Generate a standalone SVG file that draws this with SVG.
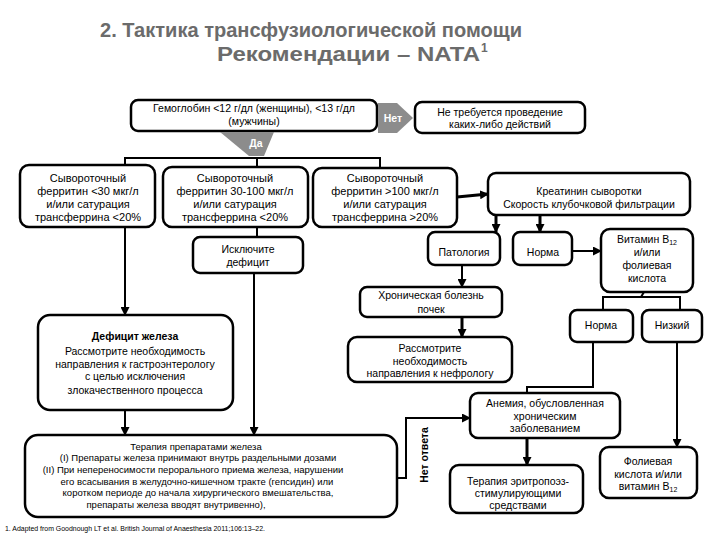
<svg xmlns="http://www.w3.org/2000/svg" width="720" height="540" viewBox="0 0 720 540">
<defs>
<style>
.bx{fill:#fff;stroke:#000;stroke-width:2.5}
.t{font-family:"Liberation Sans",Arial,sans-serif;font-size:10.5px;fill:#000;text-anchor:middle}
.t11{font-size:11px}
.ts{font-size:9.5px}
.b{font-weight:bold}
.ln{stroke:#000;stroke-width:2;fill:none}
.lnb{stroke:#000;stroke-width:3;fill:none}
.ti{font-family:"Liberation Sans",Arial,sans-serif;font-weight:bold;font-size:20px;fill:#6b6b6b}
.gr{fill:#8c8c8c}
.wt{font-family:"Liberation Sans",Arial,sans-serif;font-weight:bold;font-size:10.5px;fill:#fff;text-anchor:middle}
</style>
<marker id="ah" markerUnits="userSpaceOnUse" markerWidth="9" markerHeight="9" refX="8" refY="4.5" orient="auto">
<path d="M0,0 L9,4.5 L0,9 z" fill="#000"/>
</marker>
</defs>
<rect width="720" height="540" fill="#fff"/>
<g id="title">
<text class="ti" x="100" y="37" textLength="422" lengthAdjust="spacingAndGlyphs">2. Тактика трансфузиологической помощи</text>
<text class="ti" x="217" y="61" textLength="263" lengthAdjust="spacingAndGlyphs">Рекомендации – NATA</text>
<text class="ti" x="481" y="52" style="font-size:12px">1</text>
</g>
<g id="connectors">
<polyline class="ln" points="125,165 125,158 380,158 380,168"/>
<line class="ln" x1="257" y1="158" x2="257" y2="167"/>
<line class="ln" x1="125" y1="227" x2="125" y2="315" marker-end="url(#ah)"/>
<line class="ln" x1="257" y1="227" x2="257" y2="237"/>
<line class="ln" x1="254" y1="273" x2="254" y2="435" marker-end="url(#ah)"/>
<line class="ln" x1="125" y1="410" x2="125" y2="435" marker-end="url(#ah)"/>
<line class="lnb" x1="457" y1="197" x2="488" y2="194" marker-end="url(#ah)"/>
<line class="lnb" x1="496" y1="215" x2="496" y2="232" marker-end="url(#ah)"/>
<line class="lnb" x1="540" y1="215" x2="540" y2="232" marker-end="url(#ah)"/>
<line class="ln" x1="572" y1="251" x2="601" y2="251" marker-end="url(#ah)"/>
<line class="ln" x1="462" y1="265" x2="462" y2="287" marker-end="url(#ah)"/>
<line class="lnb" x1="462" y1="317" x2="462" y2="337" marker-end="url(#ah)"/>
<polyline class="ln" points="644,292 641,297"/>
<polyline class="ln" points="603,310 603,297 680,297 680,310"/>
<polyline class="ln" points="593,342 593,387 527,387 527,393"/>
<line class="ln" x1="677" y1="342" x2="677" y2="447" marker-end="url(#ah)"/>
<polyline class="ln" points="397,478 406,478 406,418 470,418" marker-end="url(#ah)"/>
<line class="lnb" x1="527" y1="438" x2="527" y2="465" marker-end="url(#ah)"/>
</g>
<g id="hb">
<rect class="bx" x="131" y="100" width="246" height="31" rx="7"/>
<text class="t" x="254" y="112">Гемоглобин &lt;12 г/дл (женщины), &lt;13 г/дл</text>
<text class="t" x="254" y="125">(мужчины)</text>
</g>
<g id="net">
<polygon class="gr" points="378,103 397,103 413,118 397,133 378,133"/>
<text class="wt" x="393" y="122">Нет</text>
</g>
<g id="da">
<polygon class="gr" points="220,132 274,132 264,156 249,156"/>
<text class="wt" x="256" y="147">Да</text>
</g>
<g id="noaction">
<rect class="bx" x="415" y="102" width="170" height="31" rx="7"/>
<text class="t" x="500" y="116">Не требуется проведение</text>
<text class="t" x="500" y="128">каких-либо действий</text>
</g>
<g id="ferr1">
<rect class="bx" x="20" y="165" width="135" height="62" rx="9"/>
<text class="t t11" x="88" y="182">Сывороточный</text>
<text class="t t11" x="88" y="195">ферритин &lt;30 мкг/л</text>
<text class="t t11" x="88" y="208">и/или сатурация</text>
<text class="t t11" x="88" y="221">трансферрина &lt;20%</text>
</g>
<g id="ferr2">
<rect class="bx" x="163" y="167" width="145" height="60" rx="9"/>
<text class="t t11" x="235" y="182">Сывороточный</text>
<text class="t t11" x="235" y="195">ферритин 30-100 мкг/л</text>
<text class="t t11" x="235" y="208">и/или сатурация</text>
<text class="t t11" x="235" y="221">трансферрина &lt;20%</text>
</g>
<g id="ferr3">
<rect class="bx" x="313" y="168" width="144" height="59" rx="9"/>
<text class="t t11" x="385" y="182">Сывороточный</text>
<text class="t t11" x="385" y="195">ферритин &gt;100 мкг/л</text>
<text class="t t11" x="385" y="208">и/или сатурация</text>
<text class="t t11" x="385" y="221">трансферрина &gt;20%</text>
</g>
<g id="creat">
<rect class="bx" x="488" y="173" width="202" height="42" rx="8"/>
<text class="t" x="589" y="195">Креатинин сыворотки</text>
<text class="t" x="589" y="208">Скорость клубочковой фильтрации</text>
</g>
<g id="exclude">
<rect class="bx" x="193" y="237" width="110" height="36" rx="7"/>
<text class="t" x="248" y="253">Исключите</text>
<text class="t" x="248" y="266">дефицит</text>
</g>
<g id="path">
<rect class="bx" x="428" y="232" width="72" height="33" rx="7"/>
<text class="t" x="464" y="256">Патология</text>
</g>
<g id="norm1">
<rect class="bx" x="513" y="232" width="59" height="33" rx="7"/>
<text class="t" x="543" y="256">Норма</text>
</g>
<g id="vit">
<rect class="bx" x="601" y="229" width="92" height="63" rx="9"/>
<text class="t" x="647" y="243">Витамин B<tspan font-size="7" dy="2">12</tspan></text>
<text class="t" x="647" y="256">и/или</text>
<text class="t" x="647" y="269">фолиевая</text>
<text class="t" x="647" y="282">кислота</text>
</g>
<g id="ckd">
<rect class="bx" x="360" y="287" width="142" height="30" rx="7"/>
<text class="t" x="431" y="299">Хроническая болезнь</text>
<text class="t" x="431" y="313">почек</text>
</g>
<g id="norm2">
<rect class="bx" x="570" y="310" width="63" height="32" rx="7"/>
<text class="t" x="601" y="329">Норма</text>
</g>
<g id="low">
<rect class="bx" x="642" y="310" width="60" height="32" rx="7"/>
<text class="t" x="672" y="329">Низкий</text>
</g>
<g id="deficit">
<rect class="bx" x="38" y="315" width="195" height="95" rx="12"/>
<text class="t b" x="135" y="340">Дефицит железа</text>
<text class="t" x="135" y="355">Рассмотрите необходимость</text>
<text class="t" x="135" y="368">направления к гастроэнтерологу</text>
<text class="t" x="135" y="380">с целью исключения</text>
<text class="t" x="135" y="394">злокачественного процесса</text>
</g>
<g id="nephro">
<rect class="bx" x="348" y="337" width="164" height="45" rx="9"/>
<text class="t" x="430" y="352">Рассмотрите</text>
<text class="t" x="430" y="365">необходимость</text>
<text class="t" x="430" y="377">направления к нефрологу</text>
</g>
<g id="anemia">
<rect class="bx" x="470" y="393" width="150" height="45" rx="8"/>
<text class="t" x="545" y="407">Анемия, обусловленная</text>
<text class="t" x="545" y="420">хроническим</text>
<text class="t" x="545" y="432">заболеванием</text>
</g>
<g id="noresp">
<text class="t b" transform="translate(428,455) rotate(-90)">Нет ответа</text>
</g>
<g id="iron">
<rect class="bx" x="25" y="435" width="372" height="82" rx="13"/>
<text class="t ts" x="196" y="450">Терапия препаратами железа</text>
<text class="t ts" x="198" y="461">(I) Препараты железа принимают внутрь раздельными дозами</text>
<text class="t ts" x="193" y="473">(II) При непереносимости перорального приема железа,  нарушении</text>
<text class="t ts" x="197" y="485">его всасывания в желудочно-кишечном тракте (гепсидин) или</text>
<text class="t ts" x="198" y="496">коротком периоде до начала хирургического вмешательства,</text>
<text class="t ts" x="176" y="508">препараты железа вводят внутривенно),</text>
</g>
<g id="esa">
<rect class="bx" x="450" y="465" width="133" height="48" rx="9"/>
<text class="t" x="518" y="485">Терапия эритропоэз-</text>
<text class="t" x="518" y="497">стимулирующими</text>
<text class="t" x="518" y="509">средствами</text>
</g>
<g id="folic">
<rect class="bx" x="600" y="447" width="97" height="51" rx="9"/>
<text class="t" x="648" y="465">Фолиевая</text>
<text class="t" x="648" y="478">кислота и/или</text>
<text class="t" x="648" y="490">витамин B<tspan font-size="7" dy="2">12</tspan></text>
</g>
<g id="footnote">
<text x="5" y="531" style="font-family:'Liberation Sans',Arial,sans-serif;font-size:7px" textLength="260" lengthAdjust="spacingAndGlyphs">1. Adapted from Goodnough LT et al. British Journal of Anaesthesia 2011;106:13–22.</text>
</g>
</svg>
